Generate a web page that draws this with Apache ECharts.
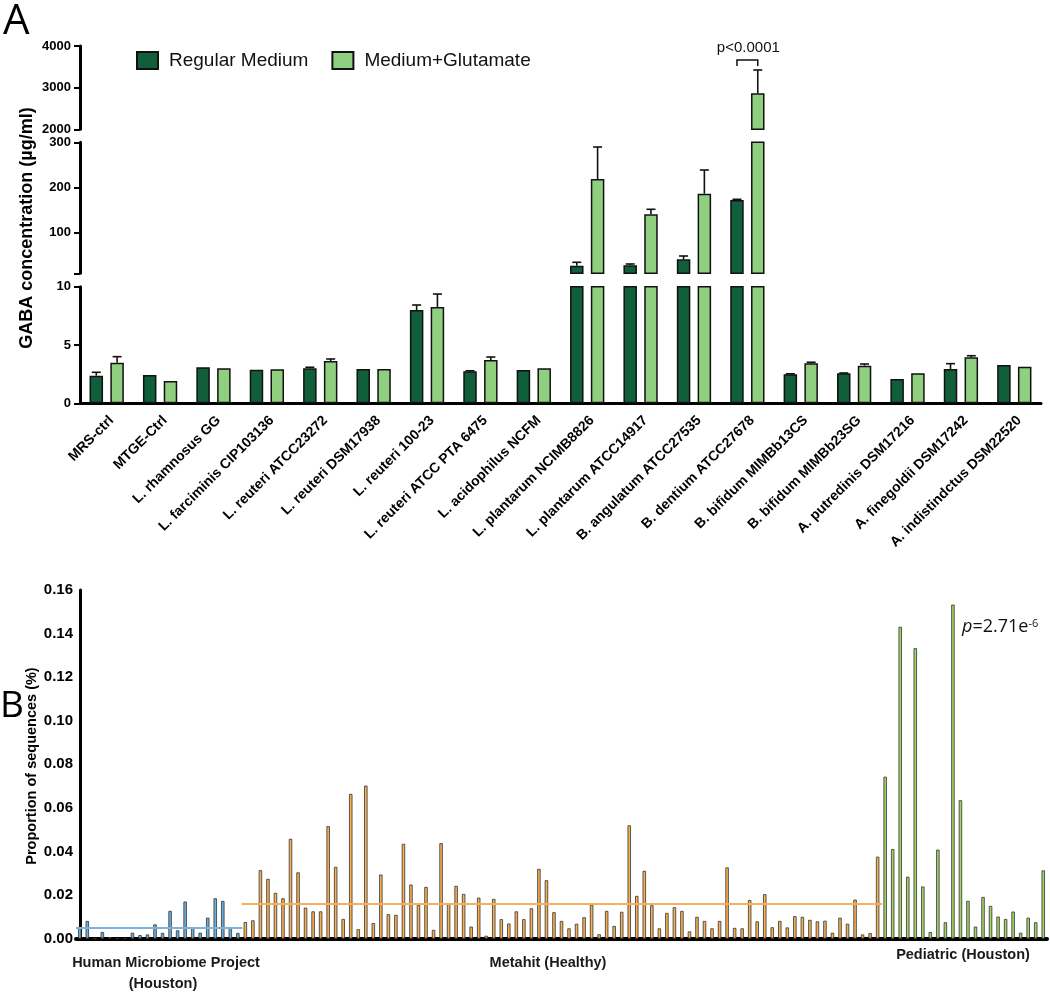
<!DOCTYPE html>
<html lang="en">
<head>
  <meta charset="UTF-8">
  <title>GABA production</title>
  <script src="https://cdn.jsdelivr.net/npm/echarts@6/dist/echarts.min.js"></script>
  <style>html, body { margin: 0; padding: 0; background: #fff; }</style>
</head>
<body>
<div id="main" style="width: 1050px;height:994px;"></div>
<script type="text/javascript">

// ---- panel A data ----
var strains = ['MRS-ctrl', 'MTGE-Ctrl', 'L. rhamnosus GG', 'L. farciminis CIP103136',
  'L. reuteri ATCC23272', 'L. reuteri DSM17938', 'L. reuteri 100-23', 'L. reuteri ATCC PTA 6475',
  'L. acidophilus NCFM', 'L. plantarum NCIMB8826', 'L. plantarum ATCC14917', 'B. angulatum ATCC27535',
  'B. dentium ATCC27678', 'B. bifidum MIMBb13CS', 'B. bifidum MIMBb23SG', 'A. putredinis DSM17216',
  'A. finegoldii DSM17242', 'A. indistindctus DSM22520'];
var regular = [2.37, 2.43, 3.09, 2.88, 3.0, 2.94, 8.0, 2.74, 2.86, 26.8, 27.7, 41.0, 172.3, 2.49, 2.57, 2.08, 2.94, 3.28];
var regularErr = [0.29, 0, 0, 0, 0.09, 0, 0.43, 0.05, 0, 7.6, 2.9, 7.3, 1.5, 0.04, 0.03, 0, 0.46, 0];
var glutamate = [3.48, 1.91, 3.0, 2.92, 3.63, 2.94, 8.26, 3.71, 3.0, 218.8, 140.6, 186.2, 2864, 3.43, 3.23, 2.57, 3.94, 3.14];
var glutamateErr = [0.52, 0, 0, 0, 0.17, 0, 1.11, 0.26, 0, 70.8, 11.1, 52.5, 560, 0.09, 0.14, 0, 0.14, 0];

// ---- panel B data ----
var hmp = [0.0054, 0.0081, 0, 0.003, 0.0006, 0, 0, 0.0027, 0.0016, 0.0019, 0.0065, 0.0026, 0.0127, 0.0038,
  0.017, 0.0051, 0.0027, 0.0096, 0.0185, 0.0173, 0.0049, 0.0026];
var metahit = [0.0076, 0.0084, 0.0314, 0.0274, 0.021, 0.0185, 0.0458, 0.0304, 0.0142, 0.0125,
  0.0125, 0.0516, 0.0329, 0.009, 0.0664, 0.0043, 0.0702, 0.0071, 0.0294, 0.0112,
  0.0109, 0.0435, 0.0248, 0.0155, 0.0237, 0.004, 0.0438, 0.0161, 0.0242, 0.0205,
  0.0055, 0.0188, 0.0013, 0.0182, 0.0089, 0.0069, 0.0125, 0.0089, 0.0139, 0.032,
  0.0268, 0.0121, 0.0081, 0.0047, 0.0068, 0.0098, 0.0156, 0.002, 0.0127, 0.0058,
  0.0123, 0.052, 0.0196, 0.0311, 0.0153, 0.0047, 0.0118, 0.0144, 0.0127, 0.0033,
  0.01, 0.0081, 0.0047, 0.0081, 0.0327, 0.0049, 0.0047, 0.0177, 0.0079, 0.0204,
  0.0052, 0.0081, 0.0051, 0.0103, 0.01, 0.0086, 0.0079, 0.0082, 0.0027, 0.0096,
  0.0068, 0.0179, 0.0019, 0.0025, 0.0376];
var pediatric = [0.0743, 0.0411, 0.1431, 0.0284, 0.1333, 0.0239, 0.003, 0.0408, 0.0075, 0.1533, 0.0635,
  0.0173, 0.0055, 0.0191, 0.015, 0.0101, 0.009, 0.0124, 0.0027, 0.0096, 0.0075, 0.0313];
var groupMeans = [0.0052, 0.016, 0.0383];
var groupNames = ['Human Microbiome Project', 'Metahit', 'Pediatric'];
var proportionTicks = [0, 0.16, 0.02];

var sans = '"Liberation Sans", Arial, sans-serif';
var darkGreen = '#115e3a', lightGreen = '#90cf80';
var barW = 13.5, barGapPx = 7.3;

// broken y axis of panel A, top segment first
var segments = [
  {top: 46, height: 83.3, min: 2000, max: 4000, interval: 1000},
  {top: 142.3, height: 131, min: 10, max: 300, ticks: [10, 100, 200, 300], labels: [100, 200, 300]},
  {top: 286.7, height: 116.6, min: 0, max: 10, interval: 5}
];

var myChart = echarts.init(document.getElementById('main'));

function errorBars(shift) {
  return function (params, api) {
    var p0 = api.coord([api.value(0), api.value(1)]);
    var p1 = api.coord([api.value(0), api.value(1) + api.value(2)]);
    var x = p0[0] + shift;
    var st = {stroke: '#111', lineWidth: 1.6};
    return {type: 'group', children: [
      {type: 'line', shape: {x1: x, y1: p0[1], x2: x, y2: p1[1]}, style: st},
      {type: 'line', shape: {x1: x - 4.5, y1: p1[1], x2: x + 4.5, y2: p1[1]}, style: st}
    ]};
  };
}

var grid = [], xAxis = [], yAxis = [], series = [];

segments.forEach(function (s, g) {
  var last = g === segments.length - 1;
  grid.push({left: 80, right: 9, top: s.top, height: s.height});
  xAxis.push({
    type: 'category', gridIndex: g, data: strains, show: last,
    axisLine: {lineStyle: {color: '#000', width: 3}},
    axisTick: {alignWithLabel: true, length: 6, lineStyle: {color: '#000', width: 2}},
    axisLabel: {interval: 0, rotate: 45, margin: 10, verticalAlign: 'top', color: '#000',
      fontFamily: sans, fontWeight: 'bold', fontSize: 14}
  });
  var ya = {
    type: 'value', gridIndex: g, min: s.min, max: s.max,
    axisLine: {show: true, lineStyle: {color: '#000', width: 3}},
    axisTick: {show: true, length: 6, lineStyle: {color: '#000', width: 2}},
    axisLabel: {color: '#000', fontFamily: sans, fontWeight: 'bold', fontSize: 13, margin: 9,
      formatter: function (v) { return String(v); }},
    splitLine: {show: false}
  };
  if (s.interval) {
    ya.interval = s.interval;
  } else {
    ya.axisTick.customValues = s.ticks;
    ya.axisLabel.customValues = s.labels;
  }
  yAxis.push(ya);

  [[regular, regularErr, 'Regular Medium', darkGreen, -1], [glutamate, glutamateErr, 'Medium+Glutamate', lightGreen, 1]]
    .forEach(function (d) {
      series.push({
        type: 'bar', name: d[2], xAxisIndex: g, yAxisIndex: g,
        barWidth: barW, barGap: '54%', clip: true,
        itemStyle: {color: d[3], borderColor: '#111', borderWidth: 1.5},
        data: d[0]
      });
      var errData = d[0].map(function (v, i) { return [i, v, d[1][i]]; })
        .filter(function (e) { return e[2] > 0 && e[1] >= s.min && e[1] + e[2] <= s.max; });
      series.push({
        type: 'custom', name: 'err', xAxisIndex: g, yAxisIndex: g, z: 5,
        renderItem: errorBars(d[4] * (barW + barGapPx) / 2),
        encode: {x: 0, y: 1},
        data: errData
      });
    });
});

// panel B
grid.push({left: 76, right: 3, top: 590, height: 348.6});
var groups = [hmp, metahit, pediatric];
var total = hmp.length + metahit.length + pediatric.length;
xAxis.push({
  type: 'value', gridIndex: 3, min: -0.5, max: total - 0.5,
  axisLine: {show: true, lineStyle: {color: '#000', width: 4}},
  axisTick: {show: false}, axisLabel: {show: false}, splitLine: {show: false}
});
yAxis.push({
  type: 'value', gridIndex: 3, min: proportionTicks[0], max: proportionTicks[1], interval: proportionTicks[2],
  axisLine: {show: true, lineStyle: {color: '#000', width: 3}},
  axisTick: {show: false},
  axisLabel: {color: '#000', fontFamily: sans, fontWeight: 'bold', fontSize: 15, margin: 3,
    formatter: function (v) { return v.toFixed(2); }},
  splitLine: {show: false}
});

var groupColors = ['#6aaedc', '#f9b050', '#a0d464'];
var meanColors = ['#7ab4de', '#f8ae5a', '#a8d46c'];
var offset = 0;
groups.forEach(function (vals, g) {
  var start = offset;
  series.push({
    type: 'bar', name: groupNames[g], xAxisIndex: 3, yAxisIndex: 3,
    barWidth: 3.4, barGap: '-100%',
    itemStyle: {color: groupColors[g], borderColor: '#333', borderWidth: 0.8},
    data: vals.map(function (v, i) { return [start + i, v]; }),
    markLine: {
      silent: true, symbol: 'none', label: {show: false},
      lineStyle: {color: meanColors[g], width: 1.8, type: 'solid'},
      data: [[{coord: [start - 0.5, groupMeans[g]]}, {coord: [start + vals.length - 0.4, groupMeans[g]]}]]
    }
  });
  offset += vals.length;
});

function groupLabel(text, x, y) {
  return {type: 'text', x: x, y: y,
    style: {text: text, fontSize: 14.5, fontFamily: sans, fontWeight: 'bold',
      fill: '#1a1a1a', align: 'center', verticalAlign: 'middle'}};
}

var option = {
  animation: false,
  backgroundColor: '#fff',
  legend: {
    left: 136, top: 51, padding: 0, itemWidth: 21, itemHeight: 17, itemGap: 23, icon: 'rect',
    data: ['Regular Medium', 'Medium+Glutamate'],
    textStyle: {fontSize: 19, fontFamily: sans, color: '#111', padding: [0, 0, 0, 6]}
  },
  grid: grid,
  xAxis: xAxis,
  yAxis: yAxis,
  series: series,
  graphic: [
    {type: 'text', left: 3, top: 1, style: {text: 'A', fontSize: 42, fontFamily: 'Open Sans', fill: '#000'}},
    {type: 'text', left: 0, top: 688, style: {text: 'B', fontSize: 37, fontFamily: 'Open Sans', fill: '#000'}},
    {type: 'text', x: 27, y: 228, rotation: Math.PI / 2,
      style: {text: 'GABA concentration (µg/ml)', fontSize: 18, fontWeight: 'bold', fontFamily: sans,
        fill: '#000', align: 'center', verticalAlign: 'middle'}},
    {type: 'text', x: 32, y: 766, rotation: Math.PI / 2,
      style: {text: 'Proportion of sequences (%)', fontSize: 14.5, fontWeight: 'bold', fontFamily: sans,
        fill: '#000', align: 'center', verticalAlign: 'middle'}},
    groupLabel('Human Microbiome Project', 166, 963),
    groupLabel('(Houston)', 163, 984),
    groupLabel('Metahit (Healthy)', 548, 963),
    groupLabel('Pediatric (Houston)', 963, 955),
    {type: 'text', x: 962, y: 627,
      style: {text: '{i|p}{n|=2.71e}{s|-6}', fill: '#111', verticalAlign: 'middle',
        rich: {
          i: {fontStyle: 'italic', fontSize: 18, fontFamily: 'Open Sans'},
          n: {fontSize: 18, fontFamily: 'Open Sans'},
          s: {fontSize: 11, fontFamily: 'Open Sans', verticalAlign: 'top'}
        }}}
  ]
};

myChart.setOption(option);

// significance bracket over the B. dentium pair
var cx = myChart.convertToPixel({xAxisIndex: 2}, strains[12]);
var half = (barW + barGapPx) / 2;
option.graphic.push(
  {type: 'polyline', shape: {points: [[cx - half, 66], [cx - half, 60], [cx + half, 60], [cx + half, 66]]},
    style: {stroke: '#111', lineWidth: 1.5, fill: null}},
  {type: 'text', x: cx + 1, y: 48,
    style: {text: 'p<0.0001', fontSize: 15, fontFamily: sans, fill: '#111', align: 'center', verticalAlign: 'middle'}}
);
myChart.setOption({graphic: option.graphic});

</script>
</body>
</html>
